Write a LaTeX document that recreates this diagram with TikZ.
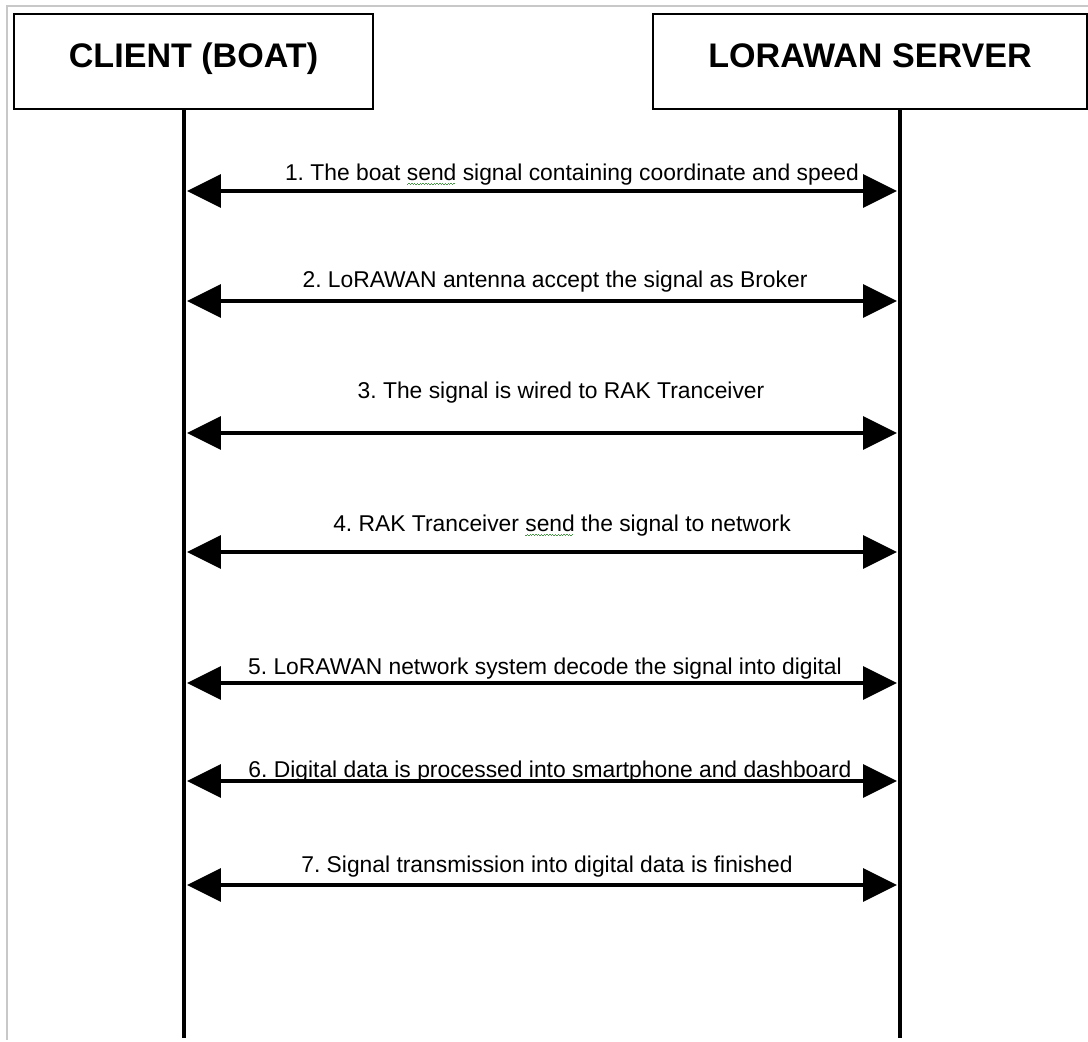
\documentclass[tikz,border=0pt]{standalone}
\usepackage{fontspec}
\setmainfont{Liberation Sans}
\usetikzlibrary{arrows.meta}
\definecolor{spellgreen}{RGB}{70,150,70}
\definecolor{framegray}{RGB}{200,200,200}
% wavy spell-check mark under a word
\newcommand\spellmark[1]{\setbox0\hbox{#1}\rlap{\color{spellgreen}\lower2.8pt\hbox to \wd0{\leaders\hbox to 1.6pt{\vrule width 0.8pt height 0.45pt depth 0pt\raise0.55pt\hbox{\vrule width 0.8pt height 0.45pt depth 0pt}}\hfill}}\box0\relax}
\frenchspacing

\begin{document}
\begin{tikzpicture}[x=0.02cm,y=-0.02cm,
  boxstyle/.style={draw,line width=1.1pt,minimum width=#1,minimum height=1.9cm,inner sep=0,
    font=\bfseries\fontsize{19.4}{21}\selectfont,text height=0.49cm,text depth=0.25cm},
  lifestyle/.style={line width=2pt},
  msgstyle/.style={line width=1.85pt,{Triangle[length=0.68cm,width=0.66cm]}-{Triangle[length=0.68cm,width=0.66cm]}},
  labelstyle/.style={anchor=base,inner sep=0,font=\fontsize{13}{15}\selectfont}]
	\useasboundingbox (0,0) rectangle (1088,1041);
	\draw[framegray,line width=1pt] (7,1040) |- (1088,6);

	\node[boxstyle=7.18cm] (client) at (193.5,61.5) {CLIENT (BOAT)};
	\node[boxstyle=8.68cm] (server) at (870,61.5) {LORAWAN SERVER};

	\coordinate (cend) at (184,1038);
	\coordinate (srvend) at (900,1038);
	\draw[lifestyle] (client.south -| cend) -- (cend);
	\draw[lifestyle] (server.south -| srvend) -- (srvend);

	\foreach \n/\ya/\yt/\xt/\txt in {
	    1/191/180/572/1. The boat \spellmark{send} signal containing coordinate and speed,
	    2/301/287/555/2. LoRAWAN antenna accept the signal as Broker,
	    3/433/398/561/3. The signal is wired to RAK Tranceiver,
	    4/552/531/562/4. RAK Tranceiver \spellmark{send} the signal to network,
	    5/683/674/545/5. LoRAWAN network system decode the signal into digital,
	    6/781/777/550/6. Digital data is processed into smartphone and dashboard,
	    7/885/872/547/7. Signal transmission into digital data is finished}
	  {\coordinate (c\n) at (187,\ya);
	   \coordinate (s\n) at (897,\ya);
	   \draw[msgstyle] (c\n) -- (s\n);
	   \node[labelstyle] (lab\n) at (\xt,\yt) {\txt};}
\end{tikzpicture}
\end{document}
